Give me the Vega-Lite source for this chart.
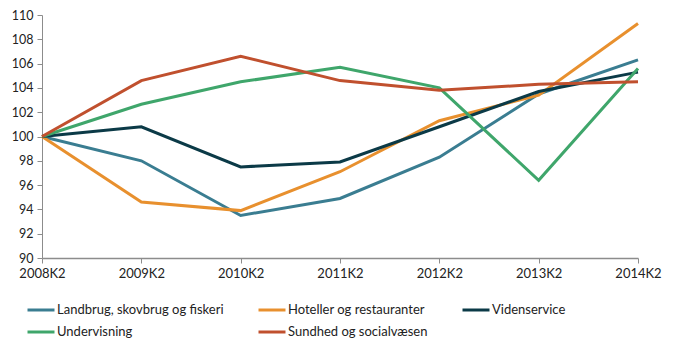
{
  "$schema": "https://vega.github.io/schema/vega-lite/v6.json",
  "width": 596,
  "height": 243,
  "autosize": {"type": "none"},
  "padding": {"left": 42, "top": 15, "right": 37, "bottom": 92},
  "background": "white",
  "config": {
    "view": {"stroke": null},
    "font": "Lato",
    "axis": {"labelFont": "Lato", "labelColor": "#222", "domainColor": "#8c8c8c", "tickColor": "#8c8c8c", "tickSize": 5, "grid": false, "title": null}
  },
  "data": {
    "values": [
      {"periode": "2008K2", "branche": "Landbrug, skovbrug og fiskeri", "indeks": 100},
      {"periode": "2009K2", "branche": "Landbrug, skovbrug og fiskeri", "indeks": 98.0},
      {"periode": "2010K2", "branche": "Landbrug, skovbrug og fiskeri", "indeks": 93.5},
      {"periode": "2011K2", "branche": "Landbrug, skovbrug og fiskeri", "indeks": 94.9},
      {"periode": "2012K2", "branche": "Landbrug, skovbrug og fiskeri", "indeks": 98.3},
      {"periode": "2013K2", "branche": "Landbrug, skovbrug og fiskeri", "indeks": 103.5},
      {"periode": "2014K2", "branche": "Landbrug, skovbrug og fiskeri", "indeks": 106.3},
      {"periode": "2008K2", "branche": "Hoteller og restauranter", "indeks": 100},
      {"periode": "2009K2", "branche": "Hoteller og restauranter", "indeks": 94.6},
      {"periode": "2010K2", "branche": "Hoteller og restauranter", "indeks": 93.9},
      {"periode": "2011K2", "branche": "Hoteller og restauranter", "indeks": 97.1},
      {"periode": "2012K2", "branche": "Hoteller og restauranter", "indeks": 101.3},
      {"periode": "2013K2", "branche": "Hoteller og restauranter", "indeks": 103.4},
      {"periode": "2014K2", "branche": "Hoteller og restauranter", "indeks": 109.3},
      {"periode": "2008K2", "branche": "Videnservice", "indeks": 100},
      {"periode": "2009K2", "branche": "Videnservice", "indeks": 100.8},
      {"periode": "2010K2", "branche": "Videnservice", "indeks": 97.5},
      {"periode": "2011K2", "branche": "Videnservice", "indeks": 97.9},
      {"periode": "2012K2", "branche": "Videnservice", "indeks": 100.8},
      {"periode": "2013K2", "branche": "Videnservice", "indeks": 103.7},
      {"periode": "2014K2", "branche": "Videnservice", "indeks": 105.3},
      {"periode": "2008K2", "branche": "Undervisning", "indeks": 100},
      {"periode": "2009K2", "branche": "Undervisning", "indeks": 102.65},
      {"periode": "2010K2", "branche": "Undervisning", "indeks": 104.5},
      {"periode": "2011K2", "branche": "Undervisning", "indeks": 105.7},
      {"periode": "2012K2", "branche": "Undervisning", "indeks": 104.0},
      {"periode": "2013K2", "branche": "Undervisning", "indeks": 96.4},
      {"periode": "2014K2", "branche": "Undervisning", "indeks": 105.6},
      {"periode": "2008K2", "branche": "Sundhed og socialvæsen", "indeks": 100},
      {"periode": "2009K2", "branche": "Sundhed og socialvæsen", "indeks": 104.6},
      {"periode": "2010K2", "branche": "Sundhed og socialvæsen", "indeks": 106.6},
      {"periode": "2011K2", "branche": "Sundhed og socialvæsen", "indeks": 104.6},
      {"periode": "2012K2", "branche": "Sundhed og socialvæsen", "indeks": 103.8},
      {"periode": "2013K2", "branche": "Sundhed og socialvæsen", "indeks": 104.3},
      {"periode": "2014K2", "branche": "Sundhed og socialvæsen", "indeks": 104.5}
    ]
  },
  "mark": {"type": "line", "strokeWidth": 3},
  "encoding": {
    "x": {
      "field": "periode", "type": "ordinal",
      "scale": {"type": "point", "padding": 0},
      "axis": {"labelAngle": 0, "labelPadding": 4, "labelFontSize": 13, "domainWidth": 1.5}
    },
    "y": {
      "field": "indeks", "type": "quantitative",
      "scale": {"domain": [90, 110], "nice": false, "zero": false},
      "axis": {"values": [90, 92, 94, 96, 98, 100, 102, 104, 106, 108, 110], "labelPadding": 4, "labelFontSize": 12.5, "domainWidth": 1}
    },
    "color": {
      "field": "branche", "type": "nominal",
      "scale": {
        "domain": ["Landbrug, skovbrug og fiskeri", "Hoteller og restauranter", "Videnservice", "Undervisning", "Sundhed og socialvæsen"],
        "range": ["#3A7D91", "#E8902E", "#0B3A47", "#3FA66B", "#C0502E"]
      },
      "legend": {
        "title": null,
        "orient": "none",
        "legendX": -16,
        "legendY": 280,
        "direction": "horizontal",
        "columns": 3,
        "gridAlign": "each",
        "columnPadding": 28,
        "rowPadding": -6,
        "symbolType": "stroke",
        "symbolSize": 729,
        "symbolStrokeWidth": 3,
        "labelOffset": 1,
        "labelFont": "Lato",
        "labelFontSize": 13,
        "labelColor": "#222",
        "labelLimit": 300
      }
    }
  }
}
